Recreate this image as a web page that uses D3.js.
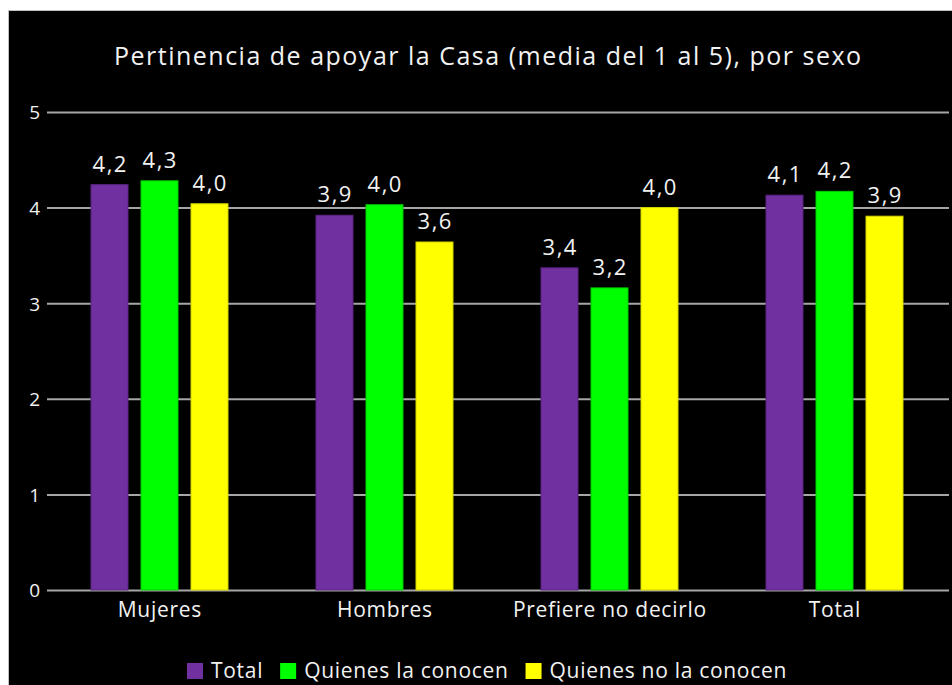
<!DOCTYPE html>
<html>
<head>
<meta charset="utf-8">
<script src="https://cdn.jsdelivr.net/npm/d3@7"></script>
<style>
  html, body { margin: 0; padding: 0; background: #ffffff; }
  svg { display: block; }
  text { font-family: "Open Sans", sans-serif; fill: #f2f2f2; }
</style>
</head>
<body>
<svg id="chart" width="952" height="685"></svg>
<script>
const title = "Pertinencia de apoyar la Casa (media del 1 al 5), por sexo";
const categories = ["Mujeres", "Hombres", "Prefiere no decirlo", "Total"];
const seriesNames = ["Total", "Quienes la conocen", "Quienes no la conocen"];
const seriesColors = ["#7030a0", "#00ff00", "#ffff00"];
const seriesStrokes = ["#5a2483", "#00cc00", "#d4d400"];
const valuesTotal = [4.24, 3.92, 3.37, 4.13];
const valuesConocen = [4.28, 4.03, 3.16, 4.17];
const valuesNoConocen = [4.04, 3.64, 4.00, 3.91];
const yTicks = [0, 1, 2, 3, 4, 5];

const seriesValues = [valuesTotal, valuesConocen, valuesNoConocen];
const data = categories.map((c, i) => ({
  cat: c,
  vals: seriesNames.map((s, j) => ({ s, j, v: seriesValues[j][i] }))
}));

const svg = d3.select("#chart");

svg.append("rect").attr("x", 8.5).attr("y", 10.5).attr("width", 960).attr("height", 700)
  .attr("fill", "#000").attr("stroke", "#c0c0c0").attr("stroke-width", 1);

const plotLeft = 47, plotRight = 947, gridRight = 949;
const x0 = d3.scaleBand().domain(categories).range([plotLeft, plotRight]);
const x1 = d3.scaleBand().domain(seriesNames).range([0, x0.bandwidth()]).paddingInner(0.24).paddingOuter(0.87);
const y = d3.scaleLinear().domain([0, 5]).range([590, 112]);

const fontFam = '"Open Sans", sans-serif';

svg.append("text").attr("x", 487.5 + 0.75).attr("y", 65).attr("text-anchor", "middle")
  .style("font-size", "25px").style("letter-spacing", "1.5px").text(title);

const yAxis = svg.append("g").attr("transform", `translate(${plotLeft},0)`)
  .call(d3.axisLeft(y).tickValues(yTicks).tickFormat(d3.format("d"))
    .tickSize(-(gridRight - plotLeft)).tickPadding(7));
yAxis.select(".domain").remove();
yAxis.selectAll(".tick line").attr("stroke", "#a6a6a6").attr("stroke-width", 2);
yAxis.selectAll(".tick text").attr("fill", "#f2f2f2").style("font-size", "19px")
  .style("font-family", fontFam).attr("dy", "0.36em");

const groups = svg.append("g").selectAll("g").data(data).join("g")
  .attr("transform", d => `translate(${x0(d.cat)},0)`);
groups.selectAll("rect").data(d => d.vals).join("rect")
  .attr("x", d => x1(d.s) + 0.5)
  .attr("width", x1.bandwidth() - 1)
  .attr("y", d => y(d.v))
  .attr("height", d => y(0) - y(d.v))
  .attr("fill", d => seriesColors[d.j])
  .attr("stroke", d => seriesStrokes[d.j])
  .attr("stroke-width", 1);
groups.selectAll("text").data(d => d.vals).join("text")
  .attr("x", d => x1(d.s) + x1.bandwidth() / 2 + 0.75)
  .attr("y", d => y(d.v) - 13)
  .attr("text-anchor", "middle")
  .style("font-size", "22px")
  .style("letter-spacing", "1.5px")
  .text(d => d3.format(".1f")(d.v).replace(".", ","));

const xAxis = svg.append("g").attr("transform", `translate(0,${y(0)})`)
  .call(d3.axisBottom(x0).tickSize(0).tickPadding(0));
xAxis.select(".domain").remove();
xAxis.selectAll(".tick text").attr("fill", "#f2f2f2").attr("y", 27).attr("dy", 0).attr("x", 0.35)
  .style("font-size", "21px").style("letter-spacing", "0.7px").style("font-family", fontFam);

const legend = svg.append("g");
const items = legend.selectAll("g").data(seriesNames).join("g");
items.append("rect").attr("width", 16).attr("height", 16).attr("y", -15)
  .attr("fill", (d, i) => seriesColors[i]);
items.append("text").attr("x", 24).attr("y", 0).style("font-size", "21px")
  .style("letter-spacing", "0.7px").text(d => d);
let cx = 0;
const gap = 17;
const widths = [];
items.each(function () {
  widths.push(24 + this.querySelector("text").getComputedTextLength());
});
const total = d3.sum(widths) + gap * (widths.length - 1);
items.attr("transform", (d, i) => {
  const t = `translate(${cx},0)`;
  cx += widths[i] + gap;
  return t;
});
legend.attr("transform", `translate(${487 - total / 2},678)`);
</script>
</body>
</html>
